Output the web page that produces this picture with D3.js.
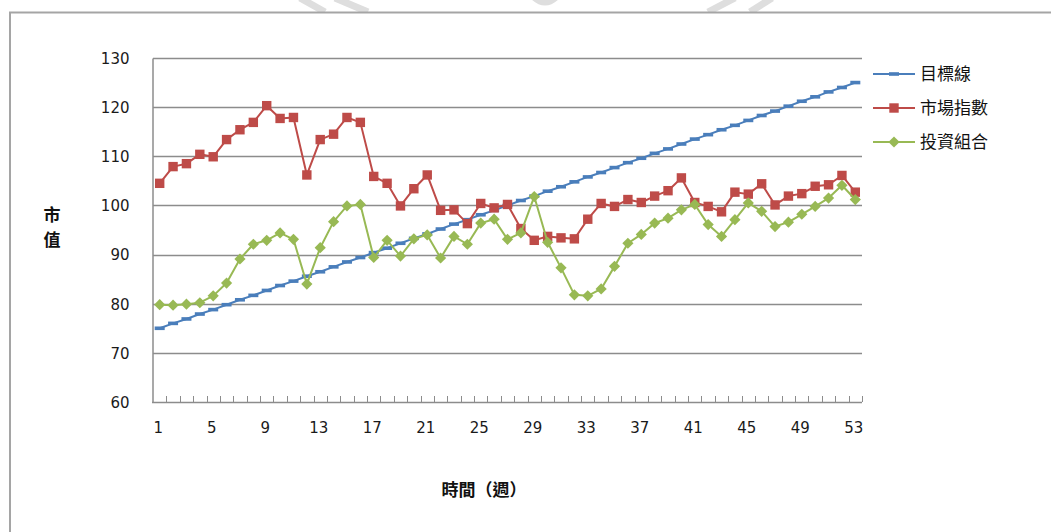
<!DOCTYPE html>
<html>
<head>
<meta charset="utf-8">
<script src="https://cdn.jsdelivr.net/npm/d3@7/dist/d3.min.js"></script>
<style>
  html, body { margin: 0; padding: 0; background: #fff; }
  svg { display: block; }
</style>
</head>
<body>
<svg id="chart" width="1051" height="532"></svg>
<script>
// Weekly values (52 weeks + 1)
const weeks = d3.range(1, 54);
const seriesNames = ["目標線", "市場指數", "投資組合"];
const targetLine = [75.0, 76.0, 76.9, 77.9, 78.8, 79.8, 80.8, 81.7, 82.7, 83.7,
  84.6, 85.6, 86.5, 87.5, 88.5, 89.4, 90.4, 91.3, 92.3, 93.3,
  94.2, 95.2, 96.2, 97.1, 98.1, 99.0, 100.0, 101.0, 101.9, 102.9,
  103.8, 104.8, 105.8, 106.7, 107.7, 108.7, 109.6, 110.6, 111.5, 112.5,
  113.5, 114.4, 115.4, 116.3, 117.3, 118.3, 119.2, 120.2, 121.2, 122.1,
  123.1, 124.0, 125.0];
const marketIndex = [104.5, 107.9, 108.5, 110.4, 109.9, 113.4, 115.4, 116.9, 120.3, 117.7,
  117.9, 106.2, 113.4, 114.5, 117.9, 116.9, 105.9, 104.5, 99.9, 103.4,
  106.2, 99.0, 99.1, 96.3, 100.4, 99.5, 100.2, 95.3, 92.9, 93.7,
  93.4, 93.2, 97.2, 100.4, 99.8, 101.2, 100.6, 101.9, 103.0, 105.6,
  100.6, 99.8, 98.7, 102.7, 102.3, 104.4, 100.1, 101.9, 102.4, 103.9,
  104.2, 106.1, 102.7];
const portfolio = [79.8, 79.7, 79.9, 80.2, 81.6, 84.2, 89.1, 92.1, 92.9, 94.4,
  93.1, 84.0, 91.4, 96.7, 99.9, 100.2, 89.4, 92.9, 89.7, 93.2,
  94.0, 89.3, 93.7, 92.1, 96.4, 97.2, 93.1, 94.4, 101.8, 92.5,
  87.3, 81.8, 81.6, 83.0, 87.6, 92.3, 94.1, 96.4, 97.4, 99.1,
  100.2, 96.1, 93.7, 97.1, 100.5, 98.8, 95.7, 96.6, 98.2, 99.8,
  101.5, 104.1, 101.2];
const yTicks = [60, 70, 80, 90, 100, 110, 120, 130];
const xTickLabels = [1, 5, 9, 13, 17, 21, 25, 29, 33, 37, 41, 45, 49, 53];
const yTitle = ["市", "值"];
const xTitle = "時間（週）";

const colors = ["#4A7EBB", "#BE4B48", "#98B954"];
const seriesData = [targetLine, marketIndex, portfolio];

const svg = d3.select("#chart");
const W = 1051, H = 532;
const plot = { left: 153, right: 862, top: 58, bottom: 402 };

// faint page watermark strokes above the chart frame
const wm = svg.append("g").attr("stroke", "#dedede").attr("stroke-width", 7).attr("fill", "none");
wm.append("line").attr("x1", 300).attr("y1", -2).attr("x2", 325).attr("y2", 12);
wm.append("line").attr("x1", 335).attr("y1", -2).attr("x2", 368).attr("y2", 12);
wm.append("path").attr("d", "M533,-4 Q545,8 557,-4");
wm.append("line").attr("x1", 735).attr("y1", -2).attr("x2", 708).attr("y2", 12);
wm.append("line").attr("x1", 772).attr("y1", -2).attr("x2", 750).attr("y2", 12);

// chart frame (runs off the right and bottom edges)
svg.append("rect")
  .attr("x", 10).attr("y", 12.5)
  .attr("width", 1100).attr("height", 600)
  .attr("fill", "#fff")
  .attr("stroke", "#a5a5a5").attr("stroke-width", 2);

const x = d3.scaleBand().domain(weeks).range([plot.left, plot.right]).padding(0);
const xc = d => x(d) + x.bandwidth() / 2;
const y = d3.scaleLinear().domain([60, 130]).range([plot.bottom, plot.top]);

// horizontal gridlines
svg.append("g")
  .selectAll("line")
  .data(yTicks.filter(t => t > 60))
  .join("line")
  .attr("x1", plot.left).attr("x2", plot.right)
  .attr("y1", d => Math.round(y(d)) + 0.5).attr("y2", d => Math.round(y(d)) + 0.5)
  .attr("stroke", "#8c8c8c").attr("stroke-width", 1.3);

// y axis
const yAxis = d3.axisLeft(y).tickValues(yTicks).tickSize(0).tickPadding(0).tickFormat(d3.format("d"));
const gy = svg.append("g").attr("transform", `translate(${plot.left - 0.5},0)`).call(yAxis);
gy.select(".domain").attr("stroke", "#8c8c8c").attr("stroke-width", 1.5);
gy.selectAll("text")
  .attr("x", 130 - plot.left)
  .attr("dy", "0.36em")
  .attr("font-family", "DejaVu Sans, Verdana, sans-serif")
  .attr("font-size", 15)
  .attr("fill", "#1a1a1a");

// x axis: ticks at category boundaries pointing up into the plot
const bounds = weeks.map(d => x(d)).concat([plot.right]);
svg.append("line")
  .attr("x1", plot.left - 1).attr("x2", plot.right)
  .attr("y1", plot.bottom + 0.5).attr("y2", plot.bottom + 0.5)
  .attr("stroke", "#8c8c8c").attr("stroke-width", 1.5);
svg.append("g")
  .selectAll("line")
  .data(bounds.slice(1))
  .join("line")
  .attr("x1", d => Math.round(d) + 0.5).attr("x2", d => Math.round(d) + 0.5)
  .attr("y1", plot.bottom).attr("y2", plot.bottom - 6)
  .attr("stroke", "#8c8c8c").attr("stroke-width", 1);
svg.append("g")
  .selectAll("text")
  .data(xTickLabels)
  .join("text")
  .attr("x", d => xc(d) - 1.5)
  .attr("y", 433)
  .attr("text-anchor", "middle")
  .attr("font-family", "DejaVu Sans, Verdana, sans-serif")
  .attr("font-size", 15)
  .attr("fill", "#1a1a1a")
  .text(d => d);

// axis titles
svg.append("g")
  .selectAll("text")
  .data(yTitle)
  .join("text")
  .attr("x", 52).attr("y", (d, i) => 221 + i * 25)
  .attr("text-anchor", "middle")
  .attr("font-family", "Noto Sans CJK TC, sans-serif")
  .attr("font-weight", "bold")
  .attr("font-size", 17)
  .attr("fill", "#111")
  .text(d => d);
svg.append("text")
  .attr("x", 484).attr("y", 496)
  .attr("text-anchor", "middle")
  .attr("font-family", "Noto Sans CJK TC, sans-serif")
  .attr("font-weight", "bold")
  .attr("font-size", 17)
  .attr("fill", "#111")
  .text(xTitle);

// marker drawing helpers
function marker(g, kind, color) {
  if (kind === 0) {
    g.append("rect").attr("x", -5).attr("y", -1.8).attr("width", 10).attr("height", 3.6).attr("fill", color);
  } else if (kind === 1) {
    g.append("rect").attr("x", -4.7).attr("y", -4.7).attr("width", 9.4).attr("height", 9.4).attr("fill", color);
  } else {
    g.append("path").attr("d", "M0,-5.6L5.6,0L0,5.6L-5.6,0Z").attr("fill", color);
  }
}

const line = d3.line().x((d, i) => xc(weeks[i])).y(d => y(d));

seriesData.forEach((vals, s) => {
  const g = svg.append("g");
  g.append("path")
    .datum(vals)
    .attr("d", line)
    .attr("fill", "none")
    .attr("stroke", colors[s])
    .attr("stroke-width", 2)
    .attr("stroke-linejoin", "round");
  g.selectAll("g.m")
    .data(vals)
    .join("g")
    .attr("class", "m")
    .attr("transform", (d, i) => `translate(${xc(weeks[i])},${y(d)})`)
    .each(function () { marker(d3.select(this), s, colors[s]); });
});

// legend
const legend = svg.append("g");
seriesNames.forEach((name, s) => {
  const ly = 74 + s * 34;
  const row = legend.append("g");
  row.append("line")
    .attr("x1", 873).attr("x2", 915).attr("y1", ly).attr("y2", ly)
    .attr("stroke", colors[s]).attr("stroke-width", 2);
  const m = row.append("g").attr("transform", `translate(894,${ly})`);
  marker(m, s, colors[s]);
  row.append("text")
    .attr("x", 920).attr("y", ly)
    .attr("dy", "0.36em")
    .attr("font-family", "Noto Sans CJK TC, sans-serif")
    .attr("font-size", 17)
    .attr("fill", "#111")
    .text(name);
});
</script>
</body>
</html>
